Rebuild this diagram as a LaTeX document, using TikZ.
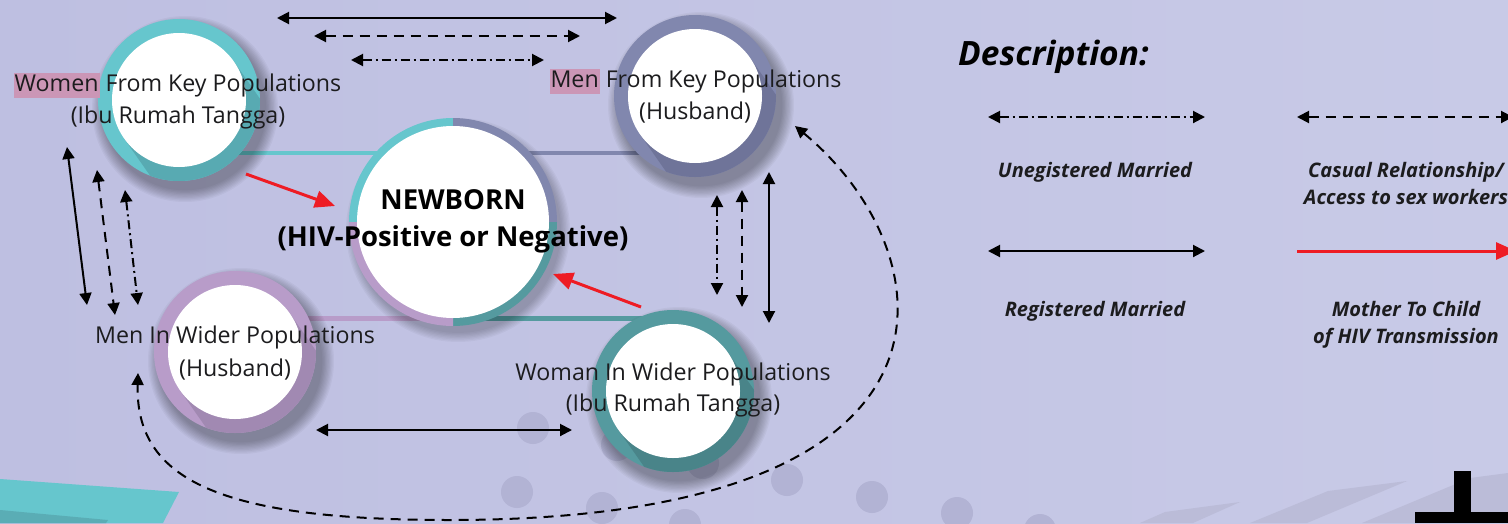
\documentclass[tikz,border=0pt]{standalone}
\usepackage{fontspec}
\setmainfont{Open Sans}
\usetikzlibrary{arrows.meta,calc}

\definecolor{bgA}{RGB}{190,191,225}
\definecolor{bgB}{RGB}{200,202,231}
\definecolor{tealA}{RGB}{102,198,205}
\definecolor{tealAd}{RGB}{88,170,178}
\definecolor{slateA}{RGB}{129,135,174}
\definecolor{slateAd}{RGB}{111,116,153}
\definecolor{lilacA}{RGB}{184,156,201}
\definecolor{lilacAd}{RGB}{161,137,178}
\definecolor{tealB}{RGB}{85,154,159}
\definecolor{tealBd}{RGB}{73,132,137}
\definecolor{dotc}{RGB}{178,179,212}
\definecolor{streak}{RGB}{187,188,216}
\definecolor{hl}{RGB}{203,150,182}
\definecolor{txt}{RGB}{28,28,30}
\definecolor{mtct}{RGB}{238,28,36}

\newcommand{\lblfont}{\fontsize{23.2}{30}\selectfont}
\newcommand{\nbfont}{\fontsize{27.5}{36}\selectfont\bfseries}
\newcommand{\descfont}{\fontsize{33.5}{40}\selectfont\bfseries\itshape}
\newcommand{\legfont}{\fontsize{20}{27}\selectfont\bfseries\itshape}
\newcommand{\hlword}[1]{{\setlength{\fboxsep}{1pt}\colorbox{hl}{\rule[-6pt]{0pt}{23pt}#1}}}

% soft shadow, then ring with its long shadow, then white face
\newcommand{\personring}[5]{%
  \foreach \i in {0,...,9}{\fill[black,opacity=0.035] ({#2+6},{#3+9}) circle ({93-1.3*\i});}
  \node[ringbase,fill=#4] (#1) at (#2,#3) {};
  \begin{scope}
    \clip (#1.center) circle (81);
    \fill[#5] (#1.center) ++(54.9,-38.5) -- ++(86,122.9) -- ++(-109.8,77) -- ++(-86,-122.9) -- cycle;
  \end{scope}
  \fill[white] (#1.center) circle (67);
}

\tikzset{
  ringbase/.style={circle,minimum size=162pt,inner sep=0pt,draw=none},
  lbl/.style={font=\lblfont,text=txt,inner sep=0pt,anchor=base},
  leg/.style={font=\legfont,text=txt,inner sep=0pt,anchor=base},
  band/.style={line width=4.5pt},
  rel/.style={line width=2pt,black,{Triangle[length=12pt,width=12pt]}-{Triangle[length=12pt,width=12pt]}},
  reldash/.style={rel,dash pattern=on 10pt off 7pt},
  reldot/.style={rel,dash pattern=on 9pt off 4pt on 2pt off 4pt},
  mtc/.style={line width=3pt,mtct,-{Triangle[length=20pt,width=17pt]}}
}

\begin{document}
\begin{tikzpicture}[x=1pt,y=-1pt]
\useasboundingbox (0,0) rectangle (1508,523);
\clip (0,0) rectangle (1508,523);

% background
\shade[left color=bgA,right color=bgB] (0,0) rectangle (1508,523);

% decorative dots
\foreach \px/\py in {533/428,617/445,703/463,787/480,872/497,957/513,1040/530,517/492,602/508,685/525}
  \fill[dotc] (\px,\py) circle (16);

% decorative corner shapes
\fill[tealA] (0,479) -- (179,492) -- (163,523) -- (0,523) -- cycle;
\fill[tealAd!90!tealA] (0,510) -- (108,520) -- (106,523) -- (0,523) -- cycle;
\fill[streak] (1140,523) -- (1165,512) -- (1240,502) -- (1193,523) -- cycle;
\fill[streak] (1250,523) -- (1328,491) -- (1407,481) -- (1307,523) -- cycle;
\fill[streak] (1362,523) -- (1470,478) -- (1508,473) -- (1508,523) -- cycle;
\fill[black] (1454,471) rectangle (1471,523);
\fill[black] (1415,512) rectangle (1508,523);

% node positions
\coordinate (yTop) at (0,153);
\coordinate (yBot) at (0,318.5);
\node[ringbase] (wk) at (179,100) {};
\node[ringbase] (mk) at (695,96) {};
\node[ringbase] (mw) at (235,352) {};
\node[ringbase] (ww) at (673,391) {};
\node[circle,minimum size=208pt,inner sep=0pt] (nb) at (453,222) {};

% bands joining each parent to the newborn
\draw[band,tealA] (wk.center |- yTop) -- (nb.center |- yTop);
\draw[band,slateA] (mk.center |- yTop) -- (nb.center |- yTop);
\draw[band,lilacA] (mw.center |- yBot) -- (nb.center |- yBot);
\draw[band,tealB] (ww.center |- yBot) -- (nb.center |- yBot);

% parent circles
\personring{wkr}{179}{100}{tealA}{tealAd}
\personring{mkr}{695}{96}{slateA}{slateAd}
\personring{mwr}{235}{352}{lilacA}{lilacAd}
\personring{wwr}{673}{391}{tealB}{tealBd}

% newborn circle with four quarter colours
\foreach \i in {0,...,7}{\fill[black,opacity=0.03] (458,230) circle ({112-1.3*\i});}
\begin{scope}\clip (453,222) rectangle (343,112); \fill[tealA] (nb.center) circle (104); \end{scope}
\begin{scope}\clip (453,222) rectangle (563,112); \fill[slateA] (nb.center) circle (104); \end{scope}
\begin{scope}\clip (453,222) rectangle (563,332); \fill[tealB] (nb.center) circle (104); \end{scope}
\begin{scope}\clip (453,222) rectangle (343,332); \fill[lilacA] (nb.center) circle (104); \end{scope}
\fill[white] (nb.center) circle (96);

% relationship arrows
\coordinate (ts1) at (277,18);  \coordinate (te1) at (617,18);
\coordinate (ts2) at (314,36);  \coordinate (te2) at (580,36);
\coordinate (ts3) at (351,60);  \coordinate (te3) at (544,60);
\draw[rel] (ts1) -- (te1);
\draw[reldash] (ts2) -- (te2);
\draw[reldot] (ts3) -- (te3);

\coordinate (l1a) at (67,147);  \coordinate (l1b) at (87,305);
\coordinate (l2a) at (97,170);  \coordinate (l2b) at (115,315);
\coordinate (l3a) at (125,190); \coordinate (l3b) at (138,305);
\draw[rel] (l1a) -- (l1b);
\draw[reldash] (l2a) -- (l2b);
\draw[reldot] (l3a) -- (l3b);

\coordinate (r1a) at (717,195); \coordinate (r1b) at (717,295);
\coordinate (r2a) at (742,190); \coordinate (r2b) at (742,307);
\coordinate (r3a) at (769,172); \coordinate (r3b) at (769,323);
\draw[reldot] (r1a) -- (r1b);
\draw[reldash] (r2a) -- (r2b);
\draw[rel] (r3a) -- (r3b);

\coordinate (b1a) at (316,430); \coordinate (b1b) at (572,430);
\draw[rel] (b1a) -- (b1b);

\coordinate (cva) at (795,126); \coordinate (cvm) at (450,520); \coordinate (cvb) at (138,373);
\draw[reldash] (cva) .. controls (945,250) and (995,520) .. (cvm)
                     .. controls (220,520) and (135,480) .. (cvb);

% mother-to-child transmission
\coordinate (m1a) at (246,174); \coordinate (m1b) at (335,206);
\coordinate (m2a) at (641,307); \coordinate (m2b) at (553,274);
\draw[mtc] (m1a) -- (m1b);
\draw[mtc] (m2a) -- (m2b);

% labels
\node[lbl] (wk1) at (177.5,91) {\hlword{Women} From Key Populations};
\node[lbl] (wk2) at (178,123) {(Ibu Rumah Tangga)};
\node[lbl] (mk1) at (695.5,87) {\hlword{Men} From Key Populations};
\node[lbl] (mk2) at (695,119) {(Husband)};
\node[lbl] (mw1) at (235,343) {Men In Wider Populations};
\node[lbl] (mw2) at (235,376) {(Husband)};
\node[lbl] (ww1) at (673,380) {Woman In Wider Populations};
\node[lbl] (ww2) at (673,411) {(Ibu Rumah Tangga)};
\node[lbl,font=\nbfont,text=black] (nb1) at (453,209) {NEWBORN};
\node[lbl,font=\nbfont,text=black] (nb2) at (453,246.5) {(HIV-Positive or Negative)};

% legend
\node[font=\descfont,text=black,inner sep=0pt,anchor=base west] (desc) at (958,65) {Description:};
\coordinate (g1a) at (988,117);  \coordinate (g1b) at (1205,117);
\coordinate (g2a) at (1297,117); \coordinate (g2b) at (1513,117);
\coordinate (g3a) at (988,251);  \coordinate (g3b) at (1205,251);
\coordinate (g4a) at (1297,251); \coordinate (g4b) at (1516,251);
\draw[reldot] (g1a) -- (g1b);
\draw[reldash] (g2a) -- (g2b);
\draw[rel] (g3a) -- (g3b);
\draw[mtc] (g4a) -- (g4b);
\node[leg] (t1) at (1095,177) {Unegistered Married};
\node[leg] (t2a) at (1406,177) {Casual Relationship/};
\node[leg] (t2b) at (1406,204) {Access to sex workers};
\node[leg] (t3) at (1095,316) {Registered Married};
\node[leg] (t4a) at (1406,316) {Mother To Child};
\node[leg] (t4b) at (1406,343) {of HIV Transmission};
\end{tikzpicture}
\end{document}
